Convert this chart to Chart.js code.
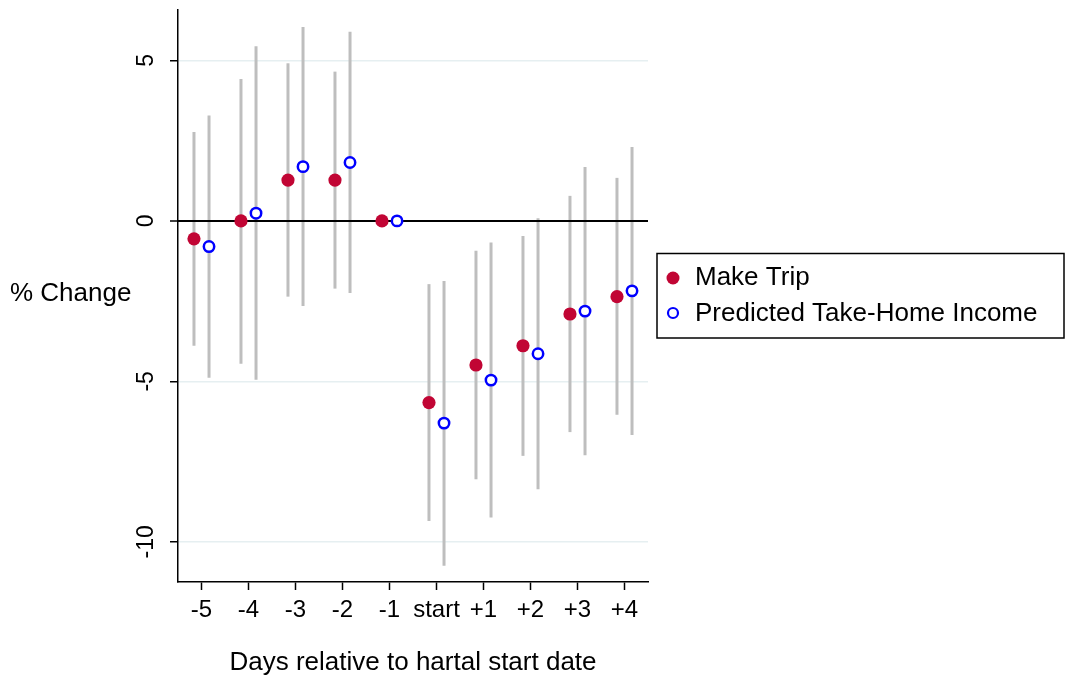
<!DOCTYPE html>
<html>
<head>
<meta charset="utf-8">
<script src="https://cdn.jsdelivr.net/npm/chart.js@4"></script>
<style>
  body { margin: 0; background: #fff; }
  #wrap { width: 1065px; height: 679px; }
</style>
</head>
<body>
<div id="wrap"><canvas id="chart"></canvas></div>
<script>
const FONT = "'Liberation Sans', Arial, sans-serif";

const days = [-5, -4, -3, -2, -1, 0, 1, 2, 3, 4];
const dayLabels = ['-5', '-4', '-3', '-2', '-1', 'start', '+1', '+2', '+3', '+4'];

const tripCoef = [-0.56, 0, 1.27, 1.27, 0, -5.66, -4.49, -3.89, -2.90, -2.36];
const tripLo   = [-3.89, -4.45, -2.36, -2.11, null, -9.35, -8.05, -7.32, -6.58, -6.04];
const tripHi   = [2.77, 4.42, 4.91, 4.65, null, -1.97, -0.93, -0.47, 0.78, 1.34];

const incomeCoef = [-0.80, 0.24, 1.69, 1.82, 0, -6.30, -4.96, -4.14, -2.81, -2.18];
const incomeLo   = [-4.89, -4.95, -2.65, -2.25, null, -10.74, -9.24, -8.36, -7.30, -6.67];
const incomeHi   = [3.28, 5.44, 6.04, 5.89, null, -1.87, -0.67, 0.08, 1.68, 2.30];

const yTicks = [-10, -5, 0, 5];

const red = '#c10534';
const blue = '#0000ff';
const ciGray = '#bebebe';

function pts(coef, shift) {
  return days.map((d, i) => ({ x: d + shift, y: coef[i] }));
}

const ciBars = [
  { shift: -0.16, lo: tripLo, hi: tripHi },
  { shift: 0.16, lo: incomeLo, hi: incomeHi }
];

const extras = {
  id: 'extras',
  beforeDatasetsDraw(chart) {
    const { ctx, scales: { x, y }, chartArea } = chart;
    ctx.save();
    ctx.strokeStyle = ciGray;
    ctx.lineWidth = 3;
    ciBars.forEach(s => {
      days.forEach((d, i) => {
        if (s.lo[i] == null) return;
        const px = x.getPixelForValue(d + s.shift);
        ctx.beginPath();
        ctx.moveTo(px, y.getPixelForValue(s.lo[i]));
        ctx.lineTo(px, y.getPixelForValue(s.hi[i]));
        ctx.stroke();
      });
    });
    // zero line over the bars
    const z = y.getPixelForValue(0);
    ctx.strokeStyle = '#000';
    ctx.lineWidth = 2;
    ctx.beginPath();
    ctx.moveTo(chartArea.left, z);
    ctx.lineTo(chartArea.right, z);
    ctx.stroke();
    ctx.restore();
  },
  afterDraw(chart) {
    const { ctx, scales: { x, y }, chartArea } = chart;
    ctx.save();
    ctx.fillStyle = '#000';

    // rotated y tick labels
    ctx.font = '23px ' + FONT;
    ctx.textAlign = 'center';
    ctx.textBaseline = 'middle';
    yTicks.forEach(v => {
      ctx.save();
      ctx.translate(147, y.getPixelForValue(v));
      ctx.rotate(-Math.PI / 2);
      ctx.fillText(String(v), 0, 0);
      ctx.restore();
    });

    // axis titles
    ctx.font = '26px ' + FONT;
    ctx.textAlign = 'left';
    ctx.fillText('% Change', 10, 294);
    ctx.textAlign = 'center';
    ctx.fillText('Days relative to hartal start date', (chartArea.left + chartArea.right) / 2, 663);

    // legend
    ctx.strokeStyle = '#000';
    ctx.lineWidth = 1.5;
    ctx.strokeRect(657, 253.5, 407, 84.5);
    ctx.fillStyle = red;
    ctx.beginPath();
    ctx.arc(673, 278, 6.5, 0, Math.PI * 2);
    ctx.fill();
    ctx.strokeStyle = blue;
    ctx.lineWidth = 2.2;
    ctx.beginPath();
    ctx.arc(673, 313, 5, 0, Math.PI * 2);
    ctx.stroke();
    ctx.fillStyle = '#000';
    ctx.textAlign = 'left';
    ctx.fillText('Make Trip', 695, 278);
    ctx.fillText('Predicted Take-Home Income', 695, 314);
    ctx.restore();
  }
};

new Chart(document.getElementById('chart'), {
  type: 'scatter',
  data: {
    datasets: [
      {
        label: 'Make Trip',
        data: pts(tripCoef, -0.16),
        pointRadius: 6.6,
        pointHoverRadius: 6.6,
        pointBackgroundColor: red,
        pointBorderColor: red,
        pointBorderWidth: 0
      },
      {
        label: 'Predicted Take-Home Income',
        data: pts(incomeCoef, 0.16),
        pointRadius: 5.2,
        pointHoverRadius: 5.2,
        pointBackgroundColor: '#fff',
        pointBorderColor: blue,
        pointBorderWidth: 2.5
      }
    ]
  },
  options: {
    responsive: true,
    maintainAspectRatio: false,
    animation: false,
    layout: { padding: { top: 10, right: 417, bottom: 0, left: 0 } },
    plugins: {
      legend: { display: false },
      tooltip: { enabled: false }
    },
    scales: {
      x: {
        type: 'linear',
        min: -5.5,
        max: 4.5,
        afterBuildTicks: s => { s.ticks = days.map(v => ({ value: v })); },
        afterFit: s => { s.height = 97; },
        border: { display: true, color: '#000', width: 1.5 },
        grid: { drawOnChartArea: false, drawTicks: true, tickLength: 8, tickColor: '#000', tickWidth: 1.5 },
        ticks: {
          autoSkip: false,
          maxRotation: 0,
          padding: 6,
          color: '#000',
          font: { family: FONT, size: 24 },
          callback: v => {
            const i = days.indexOf(v);
            return i >= 0 ? dayLabels[i] : '';
          }
        }
      },
      y: {
        min: -11.25,
        max: 6.57,
        afterFit: s => { s.width = 178; },
        border: { display: true, color: '#000', width: 1.5 },
        grid: {
          color: c => c.tick.value === 0 ? '#000' : '#e6eff1',
          lineWidth: c => c.tick.value === 0 ? 2 : 1.5,
          drawTicks: true,
          tickLength: 8,
          tickColor: '#000',
          tickWidth: 1.5
        },
        ticks: {
          stepSize: 5,
          includeBounds: false,
          display: false
        }
      }
    }
  },
  plugins: [extras]
});
</script>
</body>
</html>
